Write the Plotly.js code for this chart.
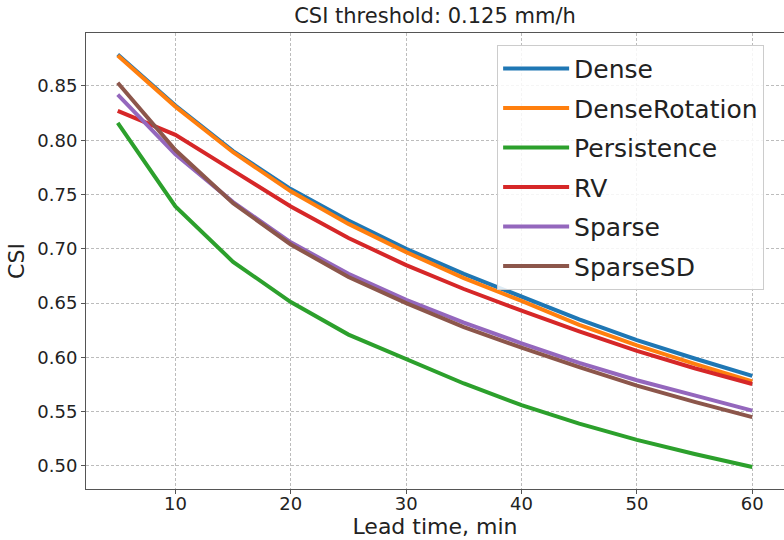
<!DOCTYPE html>
<html>
<head>
<meta charset="utf-8">
<script src="https://cdn.plot.ly/plotly-3.0.1.min.js"></script>
<style>html,body{margin:0;padding:0;background:#fff;}#chart{width:784px;height:540px;}</style>
</head>
<body>
<div id="chart"></div>
<script>
const leadTime = [5, 10, 15, 20, 25, 30, 35, 40, 45, 50, 55, 60];
const dense = [0.879, 0.832, 0.790, 0.755, 0.726, 0.700, 0.677, 0.656, 0.635, 0.616, 0.599, 0.583];
const denseRotation = [0.878, 0.831, 0.789, 0.753, 0.723, 0.697, 0.673, 0.652, 0.630, 0.611, 0.594, 0.578];
const persistence = [0.816, 0.739, 0.688, 0.651, 0.621, 0.598, 0.576, 0.556, 0.539, 0.524, 0.511, 0.499];
const rv = [0.827, 0.805, 0.772, 0.739, 0.710, 0.685, 0.663, 0.643, 0.624, 0.606, 0.590, 0.5755];
const sparse = [0.842, 0.787, 0.743, 0.706, 0.677, 0.653, 0.632, 0.613, 0.595, 0.579, 0.565, 0.551];
const sparseSD = [0.853, 0.791, 0.742, 0.704, 0.674, 0.650, 0.628, 0.609, 0.591, 0.574, 0.559, 0.545];
const seriesNames = ["Dense", "DenseRotation", "Persistence", "RV", "Sparse", "SparseSD"];
const seriesValues = [dense, denseRotation, persistence, rv, sparse, sparseSD];
const colors = ["#1f77b4", "#ff7f0e", "#2ca02c", "#d62728", "#9467bd", "#8c564b"];
const yTicks = [0.50, 0.55, 0.60, 0.65, 0.70, 0.75, 0.80, 0.85];
const xTicks = [10, 20, 30, 40, 50, 60];

const traces = seriesNames.map((n, i) => ({
  x: leadTime, y: seriesValues[i], name: n, type: "scatter", mode: "lines",
  legendgroup: "g" + i,
  line: {color: colors[i], width: 4}
}));

const font = "DejaVu Sans, sans-serif";
const layout = {
  width: 784, height: 540,
  margin: {l: 86, r: 0, t: 33, b: 51},
  paper_bgcolor: "#fff", plot_bgcolor: "#fff",
  font: {family: font, color: "#222"},
  title: {text: "CSI threshold: 0.125 mm/h", font: {family: font, size: 21, color: "#222"},
          x: 0.5, xref: "paper", xanchor: "center", y: 1, yref: "container", yanchor: "top", pad: {t: 8}},
  xaxis: {
    range: [2.25, 62.75], tickvals: xTicks, ticktext: xTicks.map(String),
    showgrid: true, gridcolor: "#bcbcbc", griddash: "3px,2px", gridwidth: 1,
    zeroline: false, showline: true, linecolor: "#555", linewidth: 1, mirror: true,
    ticks: "outside", ticklen: 4, tickcolor: "#555", ticklabelstandoff: -6,
    tickfont: {family: font, size: 18, color: "#222"},
    title: {text: "Lead time, min", font: {family: font, size: 22, color: "#222"}, standoff: 4}
  },
  yaxis: {
    range: [0.4788, 0.8988], tickvals: yTicks, ticktext: yTicks.map(v => v.toFixed(2)),
    showgrid: true, gridcolor: "#bcbcbc", griddash: "3px,2px", gridwidth: 1,
    zeroline: false, showline: true, linecolor: "#555", linewidth: 1, mirror: true,
    ticks: "outside", ticklen: 4, tickcolor: "#555",
    tickfont: {family: font, size: 18, color: "#222"},
    title: {text: "CSI", font: {family: font, size: 22, color: "#222"}, standoff: 6}
  },
  legend: {
    x: 0.589, y: 0.974, xanchor: "left", yanchor: "top",
    bgcolor: "rgba(255,255,255,0.85)", bordercolor: "#ccc", borderwidth: 1,
    font: {family: font, size: 25, color: "#222"}, itemwidth: 66,
    traceorder: "grouped", tracegroupgap: 4
  },
  showlegend: true
};
Plotly.newPlot("chart", traces, layout, {displayModeBar: false, staticPlot: true});
</script>
</body>
</html>
